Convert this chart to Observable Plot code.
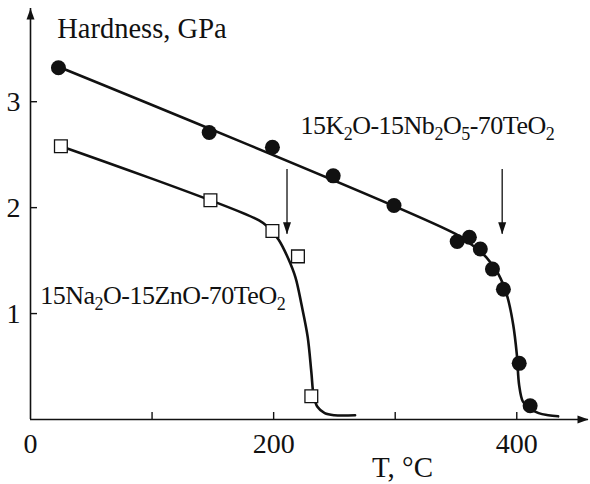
<!DOCTYPE html>
<html><head><meta charset="utf-8">
<script src="https://cdn.jsdelivr.net/npm/d3@7"></script>
<script src="https://cdn.jsdelivr.net/npm/@observablehq/plot@0.6"></script>
<style>
html,body{margin:0;padding:0;background:#fff;}
</style>
</head><body>
<div id="chart"></div>
<script>
// Measured points: 15K2O-15Nb2O5-70TeO2 (filled circles)
const kT = [23, 147, 199, 249, 299, 351, 361, 370, 380, 389, 402, 411];
const kH = [3.32, 2.71, 2.57, 2.30, 2.02, 1.68, 1.72, 1.61, 1.42, 1.23, 0.53, 0.13];
// Measured points: 15Na2O-15ZnO-70TeO2 (open squares)
const naT = [25, 148, 199, 220, 231];
const naH = [2.58, 2.07, 1.78, 1.54, 0.22];
// Fitted curves
const kFitT = [23, 350, 363, 375, 385, 392, 397, 400, 402, 405, 410, 418, 426, 434];
const kFitH = [3.33, 1.75, 1.65, 1.53, 1.37, 1.17, 0.90, 0.62, 0.32, 0.17, 0.11, 0.06, 0.04, 0.03];
const naFitT = [25, 188, 196, 204, 212, 218, 223, 228, 231, 233, 236, 242, 250, 267];
const naFitH = [2.58, 1.88, 1.81, 1.70, 1.52, 1.34, 1.08, 0.78, 0.45, 0.22, 0.12, 0.06, 0.04, 0.04];
// Arrows marking transition temperatures
const arrowT = [211, 388];
const arrowTop = [2.36, 2.36];
const arrowTip = [1.75, 1.75];
// Axis ticks
const xTicksMinor = [100, 200, 300, 400];
const xTickLabels = [0, 200, 400];
const yTicks = [1, 2, 3];
const xMax = 459, yMax = 3.88;

const kPts = kT.map((t, i) => ({t, h: kH[i]}));
const naPts = naT.map((t, i) => ({t, h: naH[i]}));
const kFit = kFitT.map((t, i) => ({t, h: kFitH[i]}));
const naFit = naFitT.map((t, i) => ({t, h: naFitH[i]}));
const arrows = arrowT.map((t, i) => ({t, y1: arrowTop[i], y2: arrowTip[i]}));

const ink = "#111";
const head = (len, half) => ({
  draw(ctx) { ctx.moveTo(0, 0); ctx.lineTo(half, len); ctx.lineTo(-half, len); ctx.closePath(); }
});
const FONT = "Liberation Serif, Times New Roman, serif";

const plot = Plot.plot({
  width: 590, height: 484,
  marginLeft: 30, marginRight: 2, marginTop: 8, marginBottom: 65,
  x: {domain: [0, xMax]},
  y: {domain: [0, yMax]},
  style: {fontFamily: FONT, fontSize: "27px", background: "#fff", color: ink},
  marks: [
    Plot.ruleY([0], {stroke: ink, strokeWidth: 1.6}),
    Plot.ruleX([0], {stroke: ink, strokeWidth: 1.6}),
    Plot.dot([{t: xMax, h: 0}], {x: "t", y: "h", symbol: head(11, 4), rotate: 90, fill: ink, stroke: null}),
    Plot.dot([{t: 0, h: yMax}], {x: "t", y: "h", symbol: head(11, 4), fill: ink, stroke: null}),
    Plot.axisX(xTicksMinor, {tickSize: -7, tickFormat: () => "", label: null, stroke: ink, strokeWidth: 1.4}),
    Plot.axisX(xTickLabels, {tickSize: 0, tickPadding: 14, tickFormat: d => String(d), label: null, fontSize: 28, fill: ink}),
    Plot.axisY(yTicks, {tickSize: -7, tickPadding: 17, tickFormat: d => String(d), label: null, fontSize: 28, fill: ink, stroke: ink, strokeWidth: 1.4}),
    Plot.line(kFit, {x: "t", y: "h", curve: "catmull-rom", stroke: ink, strokeWidth: 2.6}),
    Plot.line(naFit, {x: "t", y: "h", curve: "catmull-rom", stroke: ink, strokeWidth: 2.6}),
    Plot.dot(kPts, {x: "t", y: "h", r: 7.5, fill: ink, stroke: null}),
    Plot.dot(naPts, {x: "t", y: "h", symbol: "square", r: 7.2, fill: "#fff", stroke: ink, strokeWidth: 1.3}),
    Plot.ruleX(arrows, {x: "t", y1: "y1", y2: "y2", stroke: ink, strokeWidth: 1.3}),
    Plot.dot(arrows, {x: "t", y: "y2", symbol: head(12, 4), rotate: 180, fill: ink, stroke: null}),
    Plot.text(["Hardness, GPa"], {x: 22, y: 3.69, text: d => d, textAnchor: "start", fontSize: 28.5, fill: ink}),
    Plot.text(["T, °C"], {x: 306, y: -0.455, text: d => d, textAnchor: "middle", fontSize: 29, fill: ink}),
    Plot.text(["15K_2O-15Nb_2O_5-70TeO_2"], {x: 222, y: 2.77, text: d => d, textAnchor: "start", fontSize: 26, fill: ink}),
    Plot.text(["15Na_2O-15ZnO-70TeO_2"], {x: 8, y: 1.17, text: d => d, textAnchor: "start", fontSize: 26, fill: ink})
  ]
});

// Render subscripts as real tspans
plot.querySelectorAll("text").forEach(t => {
  const s = t.textContent;
  if (!s.includes("_")) return;
  t.textContent = "";
  t.setAttribute("letter-spacing", "-0.5");
  const parts = s.split(/_(\d)/);
  parts.forEach((p, i) => {
    if (!p) return;
    const ts = document.createElementNS("http://www.w3.org/2000/svg", "tspan");
    ts.textContent = p;
    if (i % 2 === 1) {
      ts.setAttribute("font-size", "18");
      ts.setAttribute("dy", "6");
    } else if (i > 0) {
      ts.setAttribute("dy", "-6");
    }
    t.appendChild(ts);
  });
});

document.getElementById("chart").appendChild(plot);
</script>
</body></html>
